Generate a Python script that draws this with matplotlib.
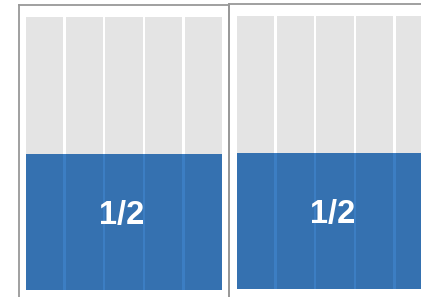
import matplotlib
matplotlib.use("Agg")
import matplotlib.pyplot as plt

# data
fractions = [0.5, 0.5]
labels = ["1/2", "1/2"]
n_cols = 5

W, H = 421, 297

# pixel boxes: frame (left, right, top) and content (left, right, top, bottom)
frames = [(19, 229, 5), (229, 439, 4)]
contents = [(26, 222, 17, 290), (237, 433, 16, 289)]


def px_axes(fig, left, right, top, bottom):
    return fig.add_axes([left / W, 1 - bottom / H, (right - left) / W, (bottom - top) / H])


fig = plt.figure(figsize=(W / 100, H / 100), dpi=100)
fig.patch.set_facecolor("white")

bar_w = 0.94
for frac, lab, (fl, fr, ft), (cl, cr, ct, cb) in zip(fractions, labels, frames, contents):
    # outer frame, open at the bottom
    fax = px_axes(fig, fl, fr, ft, 320)
    fax.set_facecolor("none")
    fax.set_xticks([])
    fax.set_yticks([])
    for side in ["left", "top", "right"]:
        fax.spines[side].set_color("#999999")
        fax.spines[side].set_linewidth(1.3)
    fax.spines["bottom"].set_visible(False)

    ax = px_axes(fig, cl, cr, ct, cb)
    ax.set_facecolor("none")
    xs = list(range(n_cols))
    span = n_cols - (1 - bar_w)
    ax.bar(xs, [1] * n_cols, width=bar_w, align="edge", color="#e4e4e4", linewidth=0)
    ax.bar([0], [frac], width=span, align="edge", color="#3c7ec3", linewidth=0)
    ax.bar(xs, [frac] * n_cols, width=bar_w, align="edge", color="#3571b0", linewidth=0)
    ax.text(span / 2 - 0.06, frac * 0.545, lab, ha="center", va="center",
            color="white", fontsize=23.5, fontweight="bold", family="Liberation Sans")
    ax.set_xlim(0, span)
    ax.set_ylim(0, 1)
    ax.axis("off")

fig.savefig("out.png", dpi=100)
